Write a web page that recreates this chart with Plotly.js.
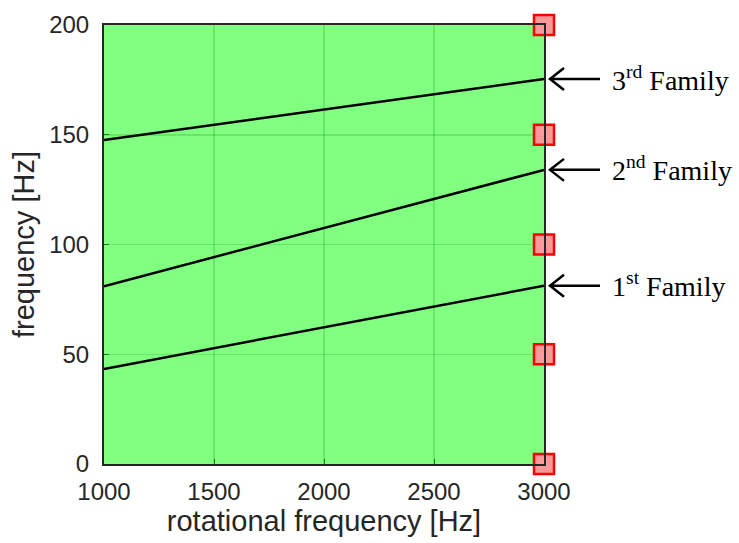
<!DOCTYPE html>
<html>
<head>
<meta charset="utf-8">
<script src="https://cdn.plot.ly/plotly-3.0.1.min.js"></script>
<style>html,body{margin:0;padding:0;background:#fff;}#chart{width:739px;height:543px;}</style>
</head>
<body>
<div id="chart"></div>
<script>
const rotFreq = [1000, 3000];
const family1 = [43.3, 81.2];
const family2 = [81.0, 134.0];
const family3 = [147.6, 175.4];
const markerX = [3000, 3000, 3000, 3000, 3000];
const markerY = [0, 50, 100, 150, 200];
const familyLabels = ['1<sup>st</sup> Family', '2<sup>nd</sup> Family', '3<sup>rd</sup> Family'];
const familyEnds = [family1[1], family2[1], family3[1]];
const xRange = [1000, 3000];
const yRange = [0, 200];

const traces = [family1, family2, family3].map(ys => ({
  x: rotFreq, y: ys, type: 'scatter', mode: 'lines',
  line: {color: '#000', width: 2.5}, hoverinfo: 'skip', showlegend: false
}));
traces.push({
  x: markerX, y: markerY, type: 'scatter', mode: 'markers', cliponaxis: false,
  marker: {symbol: 'square', size: 20, color: '#FF9999', line: {color: '#FF0000', width: 2.5}},
  showlegend: false
});

const annotations = [];
const shapes = [];
familyEnds.forEach((y, i) => {
  // arrow drawn in pixel units, anchored at the line end (paper coords of the data point)
  shapes.push({type: 'path', xref: 'paper', yref: 'paper', xsizemode: 'pixel', ysizemode: 'pixel',
    xanchor: 1, yanchor: (y - yRange[0]) / (yRange[1] - yRange[0]),
    path: 'M 6 0 L 56 0 M 20 -11 L 6 0 L 20 11',
    line: {color: '#000', width: 2.5}});
  annotations.push({x: 3000, y: y, xref: 'x', yref: 'y', text: familyLabels[i], showarrow: false,
    xanchor: 'left', yanchor: 'middle', xshift: 66, yshift: 1,
    font: {family: 'Liberation Serif, Times New Roman, serif', size: 28, color: '#000'}});
});

const layout = {
  width: 739, height: 543,
  margin: {l: 104, r: 195, t: 25, b: 79},
  paper_bgcolor: '#fff', plot_bgcolor: '#80FF80',
  font: {family: 'Liberation Sans, Arial, sans-serif', size: 24, color: '#262626'},
  xaxis: {range: xRange, tickvals: [1000, 1500, 2000, 2500, 3000], ticks: 'inside', ticklen: 5,
    tickfont: {size: 24, color: '#262626'}, ticklabelstandoff: 5,
    tickcolor: '#1a7a1a', showgrid: true, gridcolor: 'rgba(0,140,0,0.2)', gridwidth: 1.5,
    showline: true, linecolor: '#262626', linewidth: 2, mirror: true, zeroline: false,
    title: {text: 'rotational frequency [Hz]', font: {size: 29, color: '#262626'}, standoff: 5}},
  yaxis: {range: yRange, tickvals: [0, 50, 100, 150, 200], ticks: 'inside', ticklen: 5,
    tickfont: {size: 24, color: '#262626'}, ticklabelstandoff: 8,
    tickcolor: '#1a7a1a', showgrid: true, gridcolor: 'rgba(0,140,0,0.2)', gridwidth: 1.5,
    showline: true, linecolor: '#262626', linewidth: 2, mirror: true, zeroline: false,
    title: {text: 'frequency [Hz]', font: {size: 29, color: '#262626'}, standoff: 6}},
  annotations: annotations,
  shapes: shapes
};
Plotly.newPlot('chart', traces, layout, {displayModeBar: false, staticPlot: true});
</script>
</body>
</html>
